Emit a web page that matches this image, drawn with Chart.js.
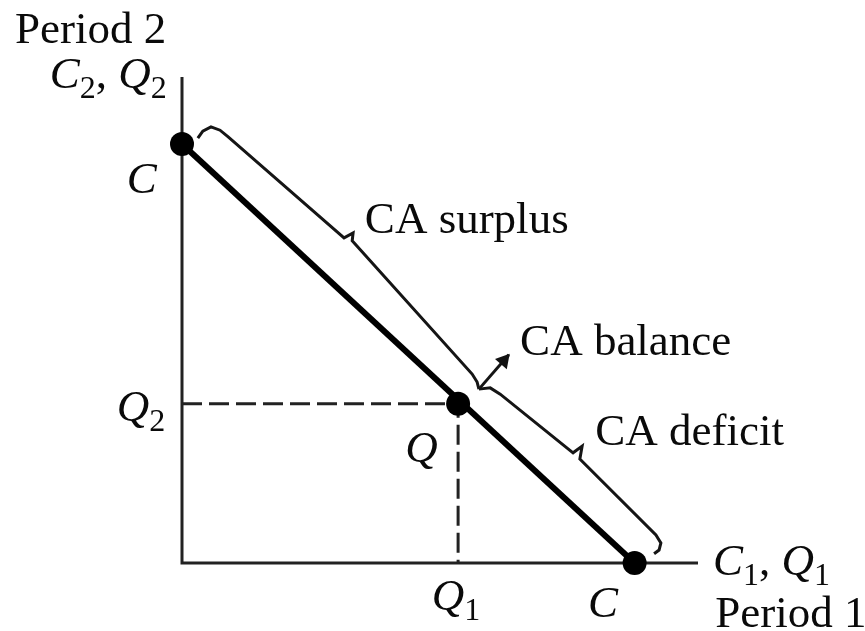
<!DOCTYPE html>
<html lang="en">
<head>
    <meta charset="UTF-8"/>
    <title>Current account: Period 1 vs Period 2</title>
    <script src="https://cdn.jsdelivr.net/npm/chart.js"></script>
    <style>
        body { margin: 0; background: #fff; }
        #wrap { width: 865px; height: 631px; }
    </style>
</head>
<body>
    <div id="wrap"><canvas id="diagram" width="865" height="631"></canvas></div>

    <script>
        // axis ranges (C = 10 on both axes)
        const xMax = 11.4;
        const yMax = 11.6;

        // axes drawn as one polyline: top of C2 axis -> origin -> end of C1 axis
        const axesX = [0, 0, xMax];
        const axesY = [yMax, 0, 0];

        // budget line C-C and the production point Q
        const budgetX = [0, 10];
        const budgetY = [10, 0];
        const qX = 6.1;
        const qY = 3.8;

        // dashed guides Q2 -> Q -> Q1
        const guideX = [0, qX, qX];
        const guideY = [qY, qY, 0];

        // marked points: C (top), Q, C (bottom)
        const dotX = [0, qX, 10];
        const dotY = [10, qY, 0];

        // brace over the surplus part (C down to Q)
        const surplusX = [0.35, 0.46, 0.64, 0.84, 1.02, 3.58, 3.78, 3.76, 6.41, 6.52, 6.56];
        const surplusY = [10.14, 10.31, 10.41, 10.33, 10.17, 7.76, 7.88, 7.69, 4.51, 4.32, 4.15];

        // brace over the deficit part (Q down to C)
        const deficitX = [6.56, 6.81, 7.03, 8.64, 8.84, 8.79, 10.47, 10.58, 10.54, 10.43];
        const deficitY = [4.15, 4.18, 4.03, 2.63, 2.79, 2.48, 0.67, 0.48, 0.31, 0.22];

        // arrow to "CA balance"
        const arrowX = [6.56, 7.22];
        const arrowY = [4.15, 4.97];
        const arrowHeadX = [7.11];
        const arrowHeadY = [4.83];

        // text labels, anchored at left/baseline in data units
        // part kinds: r = roman, i = italic, s = subscript
        const labels = [
            { x: -3.69, y: 12.41, parts: [['Period 2', 'r']] },
            { x: -2.92, y: 11.34, parts: [['C', 'i'], ['2', 's'], [', ', 'r'], ['Q', 'i'], ['2', 's']] },
            { x: -1.22, y: 8.83, parts: [['C', 'i']] },
            { x: -1.44, y: 3.38, parts: [['Q', 'i'], ['2', 's']] },
            { x: 4.93, y: 2.41, parts: [['Q', 'i']] },
            { x: 5.52, y: -1.12, parts: [['Q', 'i'], ['1', 's']] },
            { x: 8.97, y: -1.29, parts: [['C', 'i']] },
            { x: 11.73, y: -0.29, parts: [['C', 'i'], ['1', 's'], [', ', 'r'], ['Q', 'i'], ['1', 's']] },
            { x: 11.78, y: -1.53, parts: [['Period 1', 'r']] },
            { x: 4.04, y: 7.88, parts: [['CA surplus', 'r']] },
            { x: 7.47, y: 4.96, parts: [['CA balance', 'r']] },
            { x: 9.13, y: 2.82, parts: [['CA deficit', 'r']] }
        ];

        const pts = (xs, ys) => xs.map((x, i) => ({ x: x, y: ys[i] }));

        const fonts = {
            r: "45px 'Liberation Serif'",
            i: "italic 45px 'Liberation Serif'",
            s: "32px 'Liberation Serif'"
        };

        const labelPlugin = {
            id: 'labels',
            afterDraw(chart) {
                const c = chart.ctx;
                const sx = chart.scales.x, sy = chart.scales.y;
                c.save();
                c.fillStyle = '#0a0a0a';
                c.textBaseline = 'alphabetic';
                c.textAlign = 'left';
                labels.forEach(l => {
                    let px = sx.getPixelForValue(l.x);
                    const py = sy.getPixelForValue(l.y);
                    l.parts.forEach(([t, kind]) => {
                        c.font = fonts[kind];
                        c.fillText(t, px, kind === 's' ? py + 10 : py);
                        px += c.measureText(t).width;
                    });
                });
                c.restore();
            }
        };

        const line = (data, extra) => Object.assign({
            data: data,
            showLine: true,
            borderColor: '#111',
            pointRadius: 0,
            fill: false,
            tension: 0,
            clip: false
        }, extra);

        new Chart(document.getElementById('diagram'), {
            type: 'scatter',
            data: {
                datasets: [
                    line(pts(dotX, dotY), {
                        showLine: false, pointRadius: 12, pointBackgroundColor: '#000',
                        pointBorderWidth: 0, order: 0
                    }),
                    line(pts(arrowHeadX, arrowHeadY), {
                        showLine: false, pointStyle: 'triangle', pointRadius: 9, pointRotation: 41,
                        pointBackgroundColor: '#111', pointBorderWidth: 0, order: 1
                    }),
                    line(pts(budgetX, budgetY), { borderWidth: 6, borderColor: '#000', order: 2 }),
                    line(pts(surplusX, surplusY), { borderWidth: 3, borderColor: '#151515', order: 3 }),
                    line(pts(deficitX, deficitY), { borderWidth: 3, borderColor: '#151515', order: 3 }),
                    line(pts(arrowX, arrowY), { borderWidth: 3, borderColor: '#151515', order: 3 }),
                    line(pts(guideX, guideY), { borderWidth: 3, borderColor: '#222', borderDash: [20, 7], order: 4 }),
                    line(pts(axesX, axesY), { borderWidth: 3, borderColor: '#222', order: 5 })
                ]
            },
            options: {
                responsive: false,
                animation: false,
                layout: { padding: { left: 182, right: 167, top: 77, bottom: 68 } },
                plugins: { legend: { display: false }, tooltip: { enabled: false } },
                scales: {
                    x: { type: 'linear', min: 0, max: xMax, display: false },
                    y: { type: 'linear', min: 0, max: yMax, display: false }
                }
            },
            plugins: [labelPlugin]
        });
    </script>
</body>
</html>
